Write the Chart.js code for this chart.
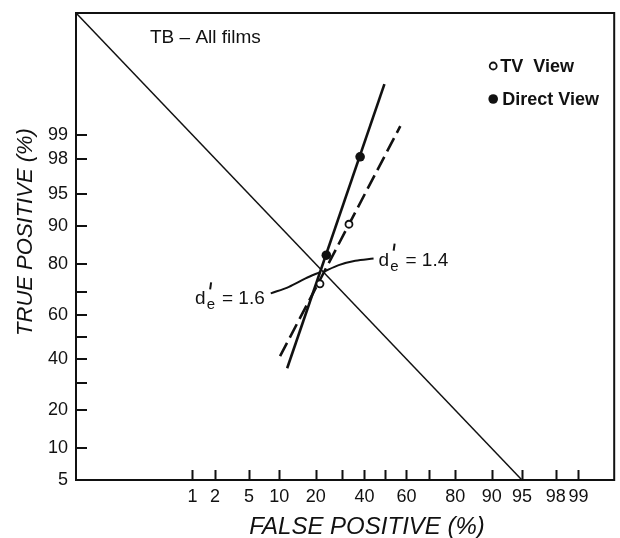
<!DOCTYPE html>
<html>
<head>
<meta charset="utf-8">
<script src="https://cdn.jsdelivr.net/npm/chart.js@4.4.0/dist/chart.umd.min.js"></script>
<style>
  html, body { margin: 0; padding: 0; background: #fff; }
  #wrap { width: 620px; height: 538px; }
</style>
</head>
<body>
<div id="wrap"><canvas id="rocChart"></canvas></div>
<script>
// probability axes, in percent
const xTickLabels = [1, 2, 5, 10, 20, 40, 60, 80, 90, 95, 98, 99];
const xMinorTicks = [30, 50, 70];
const yTickLabels = [5, 10, 20, 40, 60, 80, 90, 95, 98, 99];
const yMinorTicks = [30, 50, 70];

// observed operating points (false positive %, true positive %)
const tvFalsePos = [21.5, 33];
const tvTruePos = [73, 90.3];
const directFalsePos = [23.8, 38];
const directTruePos = [82.7, 98.1];

// fitted lines, end points
const tvFitFalsePos = [10.2, 57.1];
const tvFitTruePos = [41.3, 99.24];
const directFitFalsePos = [11.8, 49.5];
const directFitTruePos = [36, 99.82];

// negative diagonal, TP = 100 - FP
const diagFalsePos = [0.0096, 95];
const diagTruePos = [99.9904, 5];

// leader curves to the d'e labels
const lead16FalsePos = [8.34, 12.24, 16.78, 21.68];
const lead16TruePos = [69.25, 71.86, 75.02, 77.37];
const lead14FalsePos = [22.87, 28.65, 35.8, 44.3];
const lead14TruePos = [77.4, 79.63, 81.0, 81.7];
const dPrimeValues = [1.6, 1.4];

const chartTitle = 'TB \u2013 All films';
const xTitle = 'FALSE POSITIVE (%)';
const yTitle = 'TRUE POSITIVE (%)';

const INK = '#111';
const FONT = '"Liberation Sans", Arial, sans-serif';

// inverse normal cdf (Acklam)
function probit(p) {
    const a = [-3.969683028665376e+01, 2.209460984245205e+02, -2.759285104469687e+02, 1.383577518672690e+02, -3.066479806614716e+01, 2.506628277459239e+00];
    const b = [-5.447609879822406e+01, 1.615858368580409e+02, -1.556989798598866e+02, 6.680131188771972e+01, -1.328068155288572e+01];
    const c = [-7.784894002430293e-03, -3.223964580411365e-01, -2.400758277161838e+00, -2.549671010286187e+00, 4.374664141464968e+00, 2.938163982698783e+00];
    const d = [7.784695709041462e-03, 3.224671290700398e-01, 2.445134137142996e+00, 3.754408661907416e+00];
    const plow = 0.02425;
    let q, r;
    if (p < plow) {
        q = Math.sqrt(-2 * Math.log(p));
        return (((((c[0] * q + c[1]) * q + c[2]) * q + c[3]) * q + c[4]) * q + c[5]) / ((((d[0] * q + d[1]) * q + d[2]) * q + d[3]) * q + 1);
    }
    if (p <= 1 - plow) {
        q = p - 0.5;
        r = q * q;
        return (((((a[0] * r + a[1]) * r + a[2]) * r + a[3]) * r + a[4]) * r + a[5]) * q / (((((b[0] * r + b[1]) * r + b[2]) * r + b[3]) * r + b[4]) * r + 1);
    }
    q = Math.sqrt(-2 * Math.log(1 - p));
    return -(((((c[0] * q + c[1]) * q + c[2]) * q + c[3]) * q + c[4]) * q + c[5]) / ((((d[0] * q + d[1]) * q + d[2]) * q + d[3]) * q + 1);
}

function normCdf(z) {
    const t = 1 / (1 + 0.2316419 * Math.abs(z));
    const y = 0.3989422804 * Math.exp(-z * z / 2) * t * (0.319381530 + t * (-0.356563782 + t * (1.781477937 + t * (-1.821255978 + t * 1.330274429))));
    return z > 0 ? 1 - y : y;
}

// normal-probability axis: values in percent, spaced by normal deviate
const axisTicks = {
    x: xTickLabels.concat(xMinorTicks).sort((p, q) => p - q),
    y: yTickLabels.concat(yMinorTicks).sort((p, q) => p - q)
};

class ProbitScale extends Chart.LinearScale {
    determineDataLimits() {
        this.min = normCdf(this.options.zMin) * 100;
        this.max = normCdf(this.options.zMax) * 100;
    }
    buildTicks() {
        return axisTicks[this.axis].map(v => ({ value: v }));
    }
    configure() {
        super.configure();
        this._zMin = this.options.zMin;
        this._zMax = this.options.zMax;
    }
    getPixelForValue(v) {
        const z = probit(v / 100);
        return this.getPixelForDecimal((z - this._zMin) / (this._zMax - this._zMin));
    }
    getValueForPixel(px) {
        const z = this._zMin + this.getDecimalForPixel(px) * (this._zMax - this._zMin);
        return normCdf(z) * 100;
    }
}
ProbitScale.id = 'probit';
ProbitScale.defaults = Chart.LinearScale.defaults;
Chart.register(ProbitScale);

const toPoints = (xs, ys) => xs.map((x, i) => ({ x: x, y: ys[i] }));

function drawDPrime(ctx, x, y, value, alignRight) {
    const big = '19px ' + FONT;
    const small = '15px ' + FONT;
    ctx.font = big;
    const wd = ctx.measureText('d').width;
    const rest = '= ' + value.toFixed(1);
    const wr = ctx.measureText(rest).width;
    ctx.font = small;
    const we = ctx.measureText('e').width;
    const total = wd + 1 + we + 7 + wr;
    const x0 = alignRight ? x - total : x;
    ctx.textAlign = 'left';
    ctx.textBaseline = 'alphabetic';
    ctx.font = big;
    ctx.fillText('d', x0, y);
    ctx.fillText(rest, x0 + wd + 1 + we + 7, y);
    ctx.font = small;
    ctx.fillText('e', x0 + wd + 1, y + 5);
    // prime over the subscript
    ctx.lineWidth = 2;
    ctx.beginPath();
    ctx.moveTo(x0 + wd + 5.5, y - 22);
    ctx.lineTo(x0 + wd + 4.5, y - 15);
    ctx.stroke();
}

const decorations = {
    id: 'decorations',
    afterDatasetsDraw(chart) {
        const ctx = chart.ctx;
        const area = chart.chartArea;
        const xs = chart.scales.x;
        const ys = chart.scales.y;
        ctx.save();
        ctx.strokeStyle = INK;
        ctx.fillStyle = INK;

        // inward tick marks
        ctx.lineWidth = 2;
        ctx.beginPath();
        xs.ticks.forEach(t => {
            const px = Math.round(xs.getPixelForValue(t.value)) + 0.5;
            ctx.moveTo(px, area.bottom);
            ctx.lineTo(px, area.bottom - 10);
        });
        ys.ticks.forEach(t => {
            if (t.value <= yTickLabels[0]) return;
            const py = Math.round(ys.getPixelForValue(t.value));
            ctx.moveTo(area.left, py);
            ctx.lineTo(area.left + 11, py);
        });
        ctx.stroke();

        // frame
        ctx.lineWidth = 2;
        ctx.strokeRect(area.left, area.top, area.right - area.left, area.bottom - area.top);

        // panel title
        ctx.font = '19px ' + FONT;
        ctx.textAlign = 'left';
        ctx.textBaseline = 'middle';
        ctx.fillText(chartTitle, area.left + 74, area.top + 25);

        // legend
        const rows = [chart.data.datasets[0], chart.data.datasets[1]];
        rows.forEach((ds, i) => {
            const mx = area.right - 121;
            const my = area.top + 53 + i * 33;
            ctx.beginPath();
            ctx.arc(mx, my, ds.pointRadius, 0, Math.PI * 2);
            ctx.fillStyle = ds.pointBackgroundColor;
            ctx.fill();
            if (ds.pointBorderWidth) {
                ctx.lineWidth = ds.pointBorderWidth;
                ctx.stroke();
            }
            ctx.fillStyle = INK;
            ctx.font = 'bold 18px ' + FONT;
            ctx.fillText(ds.label, mx + 7 + i * 2, my + 1);
        });

        // d'e labels at the ends of the leaders
        const l16x = xs.getPixelForValue(lead16FalsePos[0]);
        const l16y = ys.getPixelForValue(lead16TruePos[0]);
        drawDPrime(ctx, l16x - 6, l16y + 11, dPrimeValues[0], true);
        const n = lead14FalsePos.length - 1;
        const l14x = xs.getPixelForValue(lead14FalsePos[n]);
        const l14y = ys.getPixelForValue(lead14TruePos[n]);
        drawDPrime(ctx, l14x + 5, l14y + 7, dPrimeValues[1], false);

        // axis titles
        ctx.font = 'italic 24px ' + FONT;
        ctx.textAlign = 'center';
        ctx.textBaseline = 'middle';
        ctx.fillText(xTitle, area.left + 291, area.bottom + 47);
        ctx.save();
        ctx.translate(area.left - 50, area.top + 219);
        ctx.rotate(-Math.PI / 2);
        ctx.font = 'italic 22px ' + FONT;
        ctx.fillText(yTitle, 0, 0);
        ctx.restore();

        ctx.restore();
    }
};

const lineStyle = { showLine: true, pointRadius: 0, pointHoverRadius: 0, borderColor: INK, fill: false, order: 2 };

new Chart(document.getElementById('rocChart'), {
    type: 'scatter',
    data: {
        datasets: [
            {
                label: 'TV  View',
                data: toPoints(tvFalsePos, tvTruePos),
                pointRadius: 3.5,
                pointBackgroundColor: '#fff',
                pointBorderColor: INK,
                pointBorderWidth: 1.8,
                order: 0
            },
            {
                label: 'Direct View',
                data: toPoints(directFalsePos, directTruePos),
                pointRadius: 4.8,
                pointBackgroundColor: INK,
                pointBorderColor: INK,
                pointBorderWidth: 0,
                order: 0
            },
            Object.assign({ label: 'TV fit', data: toPoints(tvFitFalsePos, tvFitTruePos), borderWidth: 2.6, borderDash: [15, 6] }, lineStyle),
            Object.assign({ label: 'Direct fit', data: toPoints(directFitFalsePos, directFitTruePos), borderWidth: 2.6 }, lineStyle),
            Object.assign({ label: 'Negative diagonal', data: toPoints(diagFalsePos, diagTruePos), borderWidth: 1.5 }, lineStyle),
            Object.assign({ label: 'd\'e 1.6', data: toPoints(lead16FalsePos, lead16TruePos), borderWidth: 2, cubicInterpolationMode: 'monotone' }, lineStyle),
            Object.assign({ label: 'd\'e 1.4', data: toPoints(lead14FalsePos, lead14TruePos), borderWidth: 2, cubicInterpolationMode: 'monotone' }, lineStyle)
        ]
    },
    options: {
        responsive: true,
        maintainAspectRatio: false,
        animation: false,
        layout: { padding: { top: 13, right: 3, left: 0, bottom: 0 } },
        plugins: {
            legend: { display: false },
            tooltip: { enabled: false }
        },
        scales: {
            x: {
                type: 'probit',
                zMin: -3.73,
                zMax: 2.757,
                grid: { display: false },
                border: { display: false },
                ticks: {
                    autoSkip: false,
                    maxRotation: 0,
                    padding: -2,
                    color: INK,
                    font: { family: FONT, size: 18 },
                    callback: v => xTickLabels.includes(v) ? String(v) : ''
                },
                afterFit: s => { s.height = 58; }
            },
            y: {
                type: 'probit',
                zMin: -1.645,
                zMax: 3.73,
                grid: { display: false },
                border: { display: false },
                ticks: {
                    autoSkip: false,
                    padding: 0,
                    color: INK,
                    font: { family: FONT, size: 18 },
                    callback: v => yTickLabels.includes(v) ? String(v) : ''
                },
                afterFit: s => { s.width = 76; }
            }
        }
    },
    plugins: [decorations]
});
</script>
</body>
</html>
